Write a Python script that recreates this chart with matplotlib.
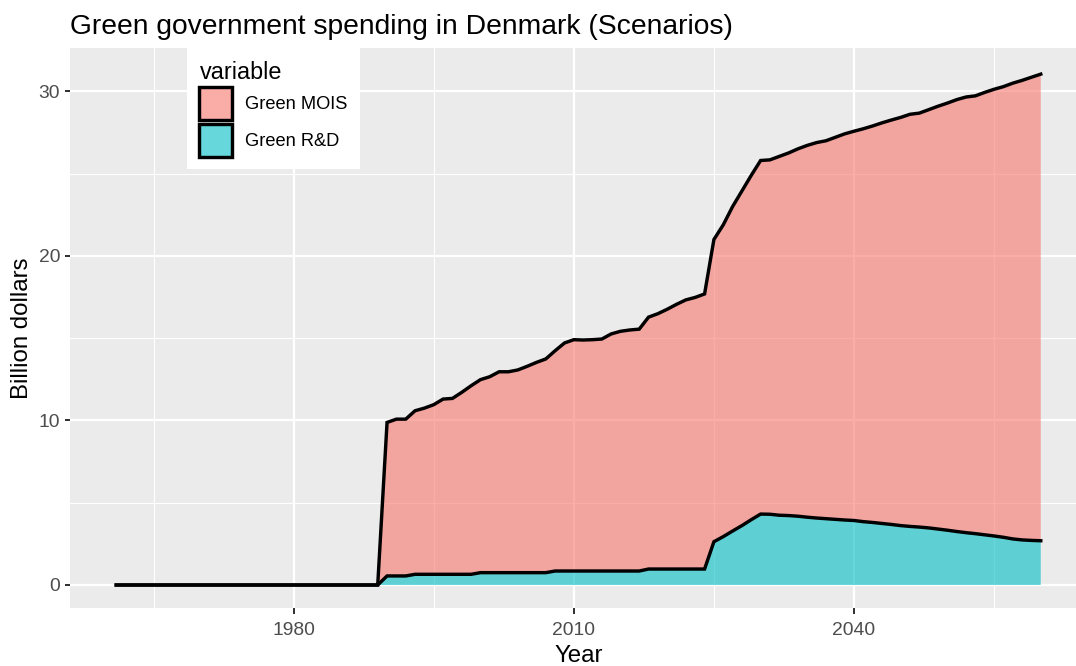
import matplotlib
matplotlib.use("Agg")
import matplotlib.pyplot as plt
from matplotlib.patches import Patch

plt.rcParams['font.family'] = ['Liberation Sans', 'DejaVu Sans']

# Years 1961-2060, nothing before 1990
years = list(range(1961, 2061))

green_rd = [0.0] * 29 + [
    0.55, 0.55, 0.55, 0.65, 0.65, 0.65, 0.65, 0.65, 0.65, 0.65,   # 1990-1999
    0.75, 0.75, 0.75, 0.75, 0.75, 0.75, 0.75, 0.75, 0.85, 0.85,   # 2000-2009
    0.85, 0.85, 0.85, 0.85, 0.85, 0.85, 0.85, 0.85, 0.97, 0.97,   # 2010-2019
    0.97, 0.97, 0.97, 0.97, 0.97, 2.63, 2.94, 3.28, 3.61, 3.97,   # 2020-2029
    4.31, 4.30, 4.24, 4.22, 4.18, 4.12, 4.07, 4.03, 3.99, 3.95,   # 2030-2039
    3.92, 3.85, 3.80, 3.74, 3.68, 3.61, 3.56, 3.52, 3.47, 3.40,   # 2040-2049
    3.33, 3.25, 3.18, 3.12, 3.05, 2.98, 2.90, 2.80, 2.74, 2.71,   # 2050-2059
    2.69,                                                         # 2060
]

green_mois = [0.0] * 29 + [
    9.33, 9.53, 9.53, 9.94, 10.10, 10.31, 10.65, 10.69, 11.06, 11.46,
    11.73, 11.91, 12.21, 12.21, 12.32, 12.54, 12.78, 12.99, 13.39, 13.86,
    14.06, 14.04, 14.06, 14.10, 14.41, 14.57, 14.65, 14.70, 15.31, 15.52,
    15.79, 16.09, 16.36, 16.51, 16.72, 18.37, 18.95, 19.72, 20.34, 20.93,
    21.49, 21.54, 21.81, 22.04, 22.33, 22.60, 22.82, 22.97, 23.22, 23.47,
    23.66, 23.88, 24.10, 24.35, 24.58, 24.81, 25.05, 25.16, 25.42, 25.70,
    25.96, 26.25, 26.48, 26.61, 26.89, 27.15, 27.39, 27.70, 27.93, 28.15,
    28.36,
]

series_names = ['Green MOIS', 'Green R&D']

pink = (248/255, 118/255, 109/255, 0.6)
cyan = (0/255, 191/255, 196/255, 0.6)

W, H, DPI = 1076, 666, 144
fig = plt.figure(figsize=(W / DPI, H / DPI), dpi=DPI)
# panel runs past the right edge, like the cropped original
ax = fig.add_axes([70 / W, (H - 607.7) / H, (1087 - 70) / W, (607.7 - 48.3) / H])

ax.set_facecolor('#EBEBEB')
for s in ax.spines.values():
    s.set_visible(False)

total = [a + b for a, b in zip(green_rd, green_mois)]

ax.fill_between(years, 0, green_rd, facecolor=cyan, edgecolor='none', zorder=2)
ax.fill_between(years, green_rd, total, facecolor=pink, edgecolor='none', zorder=2)
ax.plot(years, green_rd, color='black', lw=1.7, zorder=3, solid_joinstyle='miter')
ax.plot(years, total, color='black', lw=1.7, zorder=3, solid_joinstyle='miter')

ax.set_xlim(1956.05, 2064.95)
ax.set_ylim(-1.38, 32.62)
ax.set_xticks([1980, 2010, 2040])
ax.set_xticks([1965, 1995, 2025, 2055], minor=True)
ax.set_yticks([0, 10, 20, 30])
ax.set_yticks([5, 15, 25], minor=True)

ax.grid(which='major', color='white', lw=1.1, zorder=0)
ax.grid(which='minor', color='white', lw=0.55, zorder=0)
ax.set_axisbelow(True)

ax.tick_params(which='major', length=2.75, width=1.0, color='#333333',
               labelcolor='#4D4D4D', labelsize=9.6, pad=2.2)
ax.tick_params(axis='x', which='major', pad=4.2)
ax.tick_params(which='minor', length=0)

ax.set_xlabel('Year', fontsize=12, labelpad=3)
ax.set_ylabel('Billion dollars', fontsize=12, labelpad=3)

fig.text(70 / W, 1 - 34 / H, 'Green government spending in Denmark (Scenarios)',
         fontsize=14.1, ha='left', va='baseline')

handles = [Patch(facecolor=pink, edgecolor='black', linewidth=1.7),
           Patch(facecolor=cyan, edgecolor='black', linewidth=1.7)]
leg = ax.legend(handles, series_names, title='variable', loc='upper left',
                bbox_to_anchor=(186.7 / W, 1 - 48.3 / H), bbox_transform=fig.transFigure,
                fontsize=9.1, title_fontsize=11.7, alignment='left',
                handlelength=1.8, handleheight=2.41, handletextpad=0.72,
                labelspacing=0.18, borderpad=0.7, borderaxespad=0,
                frameon=True, fancybox=False, framealpha=1)
leg.get_frame().set_facecolor('white')
leg.get_frame().set_edgecolor('none')

fig.savefig('out.png', dpi=DPI)
